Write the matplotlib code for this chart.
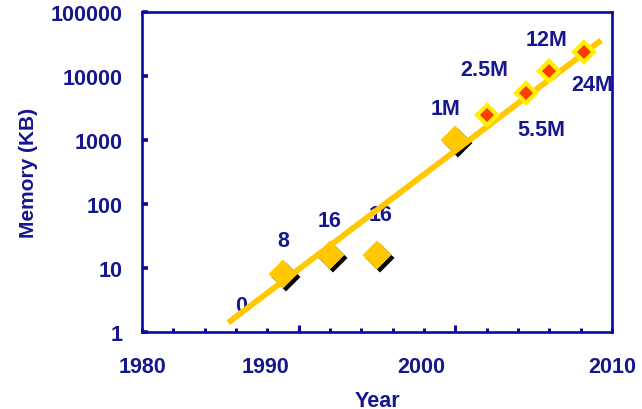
import matplotlib
matplotlib.use("Agg")
import matplotlib.pyplot as plt
import matplotlib.transforms as mtransforms

# Memory per chip over time (KB)
early_years = [1989, 1992, 1995, 2000]
early_kb = [8, 16, 16, 1000]
early_labels = ["8", "16", "16", "1M"]

recent_years = [2002, 2004.5, 2006, 2008.2]
recent_kb = [2500, 5500, 12000, 24000]
recent_labels = ["2.5M", "5.5M", "12M", "24M"]

# Fitted trend
trend_years = [1985.5, 2009.3]
trend_kb = [1.4, 36000]

y_ticks = [1, 10, 100, 1000, 10000, 100000]
y_tick_labels = ["1", "10", "100", "1000", "10000", "100000"]
x_label_text = ["1980", "1990", "2000", "2010"]
x_label_pos = [1980, 1987.9, 1997.8, 2010]

NAVY = "#16168F"
AXIS = "#0A0AA0"
GOLD = "#FFC800"
RED = "#FF3C00"
YELLOW = "#FFF200"

plt.rcParams["font.family"] = ["Liberation Sans", "DejaVu Sans"]
plt.rcParams["font.weight"] = "bold"

fig = plt.figure(figsize=(6.42, 4.10), dpi=100)
ax = fig.add_axes([0.2212, 0.1878, 0.7321, 0.7805])
ax.set_yscale("log")
ax.set_xlim(1980, 2010)
ax.set_ylim(1, 100000)

for s in ax.spines.values():
    s.set_color(AXIS)
    s.set_linewidth(1.9)

# x ticks: every two years, taller at the decades
ax.set_xticks([1990, 2000])
ax.set_xticks(range(1980, 2011, 2), minor=True)
ax.tick_params(axis="x", which="major", direction="in", length=5, width=2.2,
               color=AXIS, labelbottom=False)
ax.tick_params(axis="x", which="minor", direction="in", length=3, width=2.2,
               color=AXIS)
ax.set_yticks(y_ticks)
ax.set_yticklabels(y_tick_labels)
ax.yaxis.set_minor_locator(matplotlib.ticker.NullLocator())
ax.tick_params(axis="y", which="major", direction="in", length=4, width=2.6,
               color=AXIS, pad=14, labelsize=15.5, labelcolor=NAVY)

xlab_tr = mtransforms.blended_transform_factory(ax.transData, ax.transAxes)
for pos, txt in zip(x_label_pos, x_label_text):
    ax.text(pos, -0.108, txt, transform=xlab_tr, ha="center", va="center",
            fontsize=15.5, color=NAVY, fontweight="bold", clip_on=False)

ax.set_xlabel("Year", fontsize=15.5, color=NAVY, fontweight="bold", labelpad=38)
ax.set_ylabel("Memory (KB)", fontsize=15, color=NAVY, fontweight="bold", labelpad=9)

# early chips: gold diamonds with a dark drop shadow
shadow = mtransforms.offset_copy(ax.transData, fig=fig, x=2.2, y=-2.2, units="points")
ax.plot(early_years, early_kb, linestyle="none", marker="D", markersize=13.5,
        color="black", markeredgecolor="black", markeredgewidth=1.5,
        transform=shadow, zorder=2)
ax.plot(early_years, early_kb, linestyle="none", marker="D", markersize=13.5,
        color=GOLD, markeredgecolor=GOLD, markeredgewidth=1.5, zorder=3)

label_off = [(0, 34), (0, 34), (4, 40), (-10, 31)]
for x, y, t, (dx, dy) in zip(early_years, early_kb, early_labels, label_off):
    ax.annotate(t, (x, y), xytext=(dx, dy), textcoords="offset pixels",
                ha="center", va="center", fontsize=15.5, color=NAVY,
                fontweight="bold", zorder=4)
ax.annotate("0", (1986.3, 1), xytext=(0, 27), textcoords="offset pixels",
            ha="center", va="center", fontsize=15.5, color=NAVY,
            fontweight="bold", zorder=4)

# trend line
ax.plot(trend_years, trend_kb, color=GOLD, linewidth=4.2,
        solid_capstyle="butt", zorder=5)

# recent chips: red diamonds outlined in yellow
ax.plot(recent_years, recent_kb, linestyle="none", marker="D", markersize=10,
        color=RED, markeredgecolor=YELLOW, markeredgewidth=3, zorder=6)

recent_off = [(-2, 45), (15, -37), (-3, 31), (8, -33)]
for x, y, t, (dx, dy) in zip(recent_years, recent_kb, recent_labels, recent_off):
    ax.annotate(t, (x, y), xytext=(dx, dy), textcoords="offset pixels",
                ha="center", va="center", fontsize=15.5, color=NAVY,
                fontweight="bold", zorder=7, annotation_clip=False)

fig.savefig("out.png", dpi=100)
